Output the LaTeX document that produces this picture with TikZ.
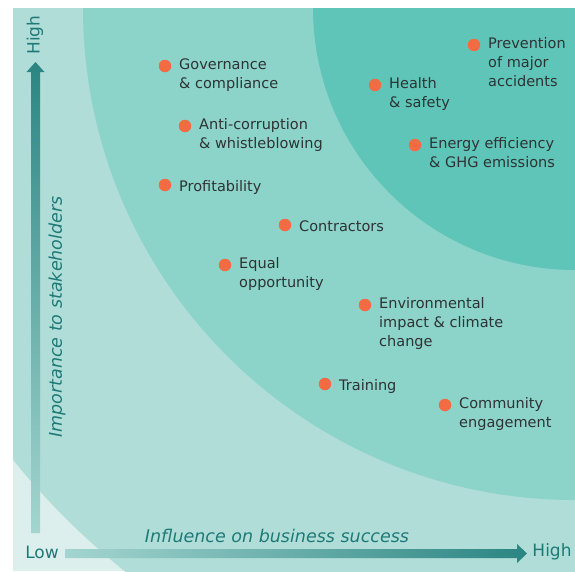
\documentclass[tikz,border=0pt]{standalone}
\usepackage{fontspec}
\setmainfont{DejaVu Sans}
\usetikzlibrary{positioning}

\definecolor{bgpale}{HTML}{DCEFED}
\definecolor{bglight}{HTML}{B0DDD8}
\definecolor{bgmid}{HTML}{8CD3CA}
\definecolor{bgdark}{HTML}{5FC5B9}
\definecolor{axisdark}{HTML}{2A8582}
\definecolor{axisfade}{HTML}{A4D5D0}
\definecolor{axisteal}{HTML}{1E7A77}
\definecolor{dotorange}{HTML}{F26B43}
\definecolor{ink}{HTML}{2E3333}

\begin{document}
\begin{tikzpicture}[x=1pt,y=-1pt,
    issue/.style={circle,fill=dotorange,minimum size=12.5pt,inner sep=0pt},
    issuetext/.style={anchor=north west,align=left,inner sep=0pt,text=ink,
      font=\fontsize{14.5}{19}\selectfont,execute at begin node=\strut},
    axislabel/.style={inner sep=0pt,text=axisteal,font=\fontsize{17.5}{20}\selectfont\itshape},
    axisend/.style={inner sep=0pt,text=axisteal,font=\fontsize{17}{20}\selectfont}]
    \useasboundingbox (0,0) rectangle (575,571);

    % Background bands
    \begin{scope}
        \clip (13,8) rectangle (575,571);
        \fill[bgpale] (13,8) rectangle (575,571);
        \fill[bglight] (575,8) circle (721);
        \fill[bgmid] (575,8) circle (492);
        \fill[bgdark] (575,8) circle (262);
    \end{scope}

    % Axes
    \shade[top color=axisdark,bottom color=axisfade]
        (31,533) -- (31,72) -- (26.5,72) -- (35.5,62) -- (44.5,72) -- (40,72) -- (40,533) -- cycle;
    \shade[left color=axisfade,right color=axisdark]
        (65,549) -- (517,549) -- (517,544) -- (527,553.5) -- (517,563) -- (517,558) -- (65,558) -- cycle;

    % Axis labels
    \node[axisend,rotate=90] (yhigh) at (35,35) {High};
    \node[axisend] (xlow) at (42,552) {Low};
    \node[axisend] (xhigh) at (552,552) {High};
    \node[axislabel,rotate=90] (yname) at (57,317) {Importance to stakeholders};
    \node[axislabel] (xname) at (277,536) {Influence on business success};

    % Issues
    \foreach \n/\x/\y/\txt in {gov/165/66/{Governance\\\& compliance},
        anti/185/126/{Anti-corruption\\\& whistleblowing},
        profit/165/185/{Profitability},
        contr/285/225/{Contractors},
        equal/225/265/{Equal\\opportunity},
        env/365/305/{Environmental\\impact \& climate\\change},
        train/325/384/{Training},
        comm/445/405/{Community\\engagement},
        prev/474/45/{Prevention\\of major\\accidents},
        health/375/85/{Health\\\& safety},
        energy/415/145/{Energy efficiency\\\& GHG emissions}} {
        \node[issue] (\n) at (\x,\y) {};
        \node[issuetext] (\n-lbl) at ([xshift=14pt,yshift=7.3pt]\n.center) {\txt};
    }
\end{tikzpicture}
\end{document}
